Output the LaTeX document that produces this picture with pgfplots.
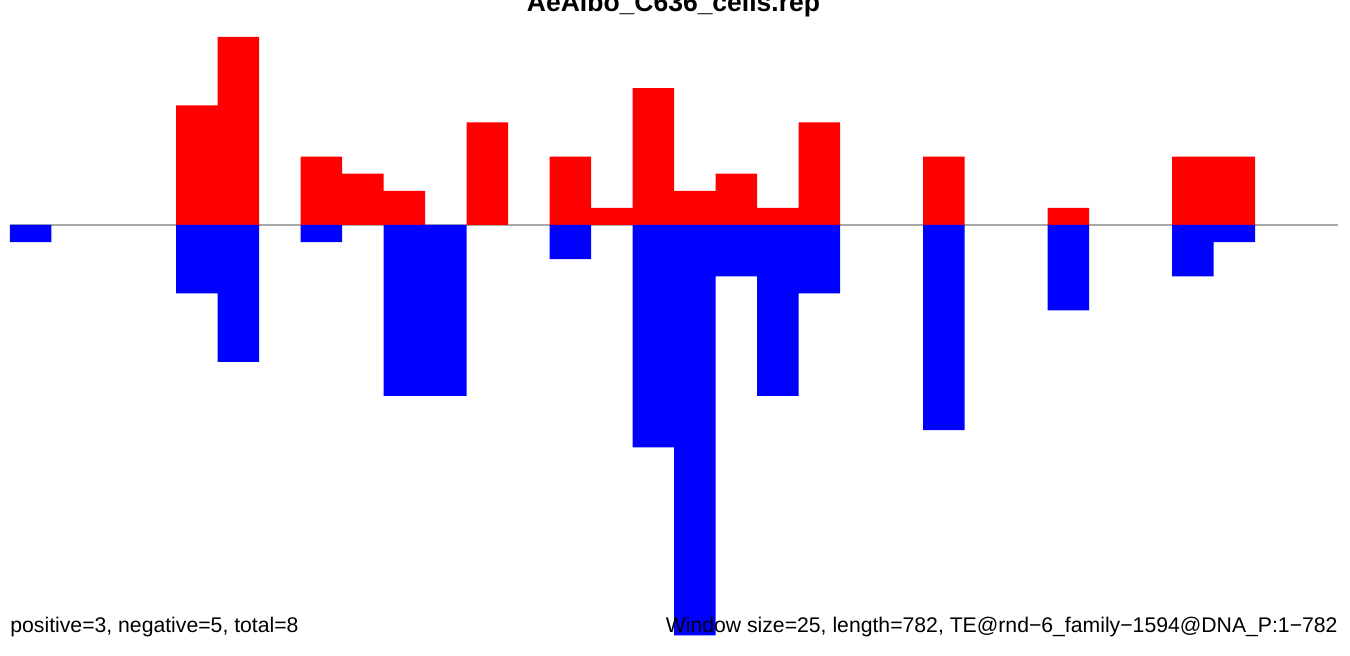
\documentclass[border=0pt]{standalone}
\usepackage{pgfplots}
\pgfplotsset{compat=1.18}
\usepackage{fontspec}
\setmainfont{Liberation Sans}
\definecolor{basegray}{HTML}{A9A9A9}
\begin{document}
\begin{tikzpicture}
\path[use as bounding box] (0,0) rectangle (675pt,-328pt);
\begin{axis}[
  at={(5pt,-317.7pt)}, anchor=south west,
  scale only axis, width=664pt, height=299.25pt,
  xmin=0, xmax=32, ymin=-24, ymax=11,
  hide axis, clip=false,
]
\draw[basegray, line width=0.8pt] (axis cs:0,0) -- (axis cs:32,0);
\addplot[ybar, bar width=1, bar shift=0pt, fill=red, draw=none] coordinates {
(4.5,7) (5.5,11) (7.5,4) (8.5,3) (9.5,2) (11.5,6) (13.5,4) (14.5,1) (15.5,8)
(16.5,2) (17.5,3) (18.5,1) (19.5,6) (22.5,4) (25.5,1) (28.5,4) (29.5,4)};
\addplot[ybar, bar width=1, bar shift=0pt, fill=blue, draw=none] coordinates {
(0.5,-1) (4.5,-4) (5.5,-8) (7.5,-1) (9.5,-10) (10.5,-10) (13.5,-2) (15.5,-13)
(16.5,-24) (17.5,-3) (18.5,-10) (19.5,-4) (22.5,-12) (25.5,-5) (28.5,-3) (29.5,-1)};
\end{axis}
\node[anchor=base, font=\fontsize{13.25pt}{15pt}\selectfont\bfseries, inner sep=0pt] at (336.75pt,-6pt) {AeAlbo\_C636\_cells.rep};
\node[anchor=base west, font=\fontsize{10.6pt}{12pt}\selectfont, inner sep=0pt] at (5pt,-316.5pt) {positive=3, negative=5, total=8};
\node[anchor=base east, font=\fontsize{10.6pt}{12pt}\selectfont, inner sep=0pt] at (669pt,-316.5pt) {Window size=25, length=782, TE@rnd−6\_family−1594@DNA\_P:1−782};
\end{tikzpicture}
\end{document}
